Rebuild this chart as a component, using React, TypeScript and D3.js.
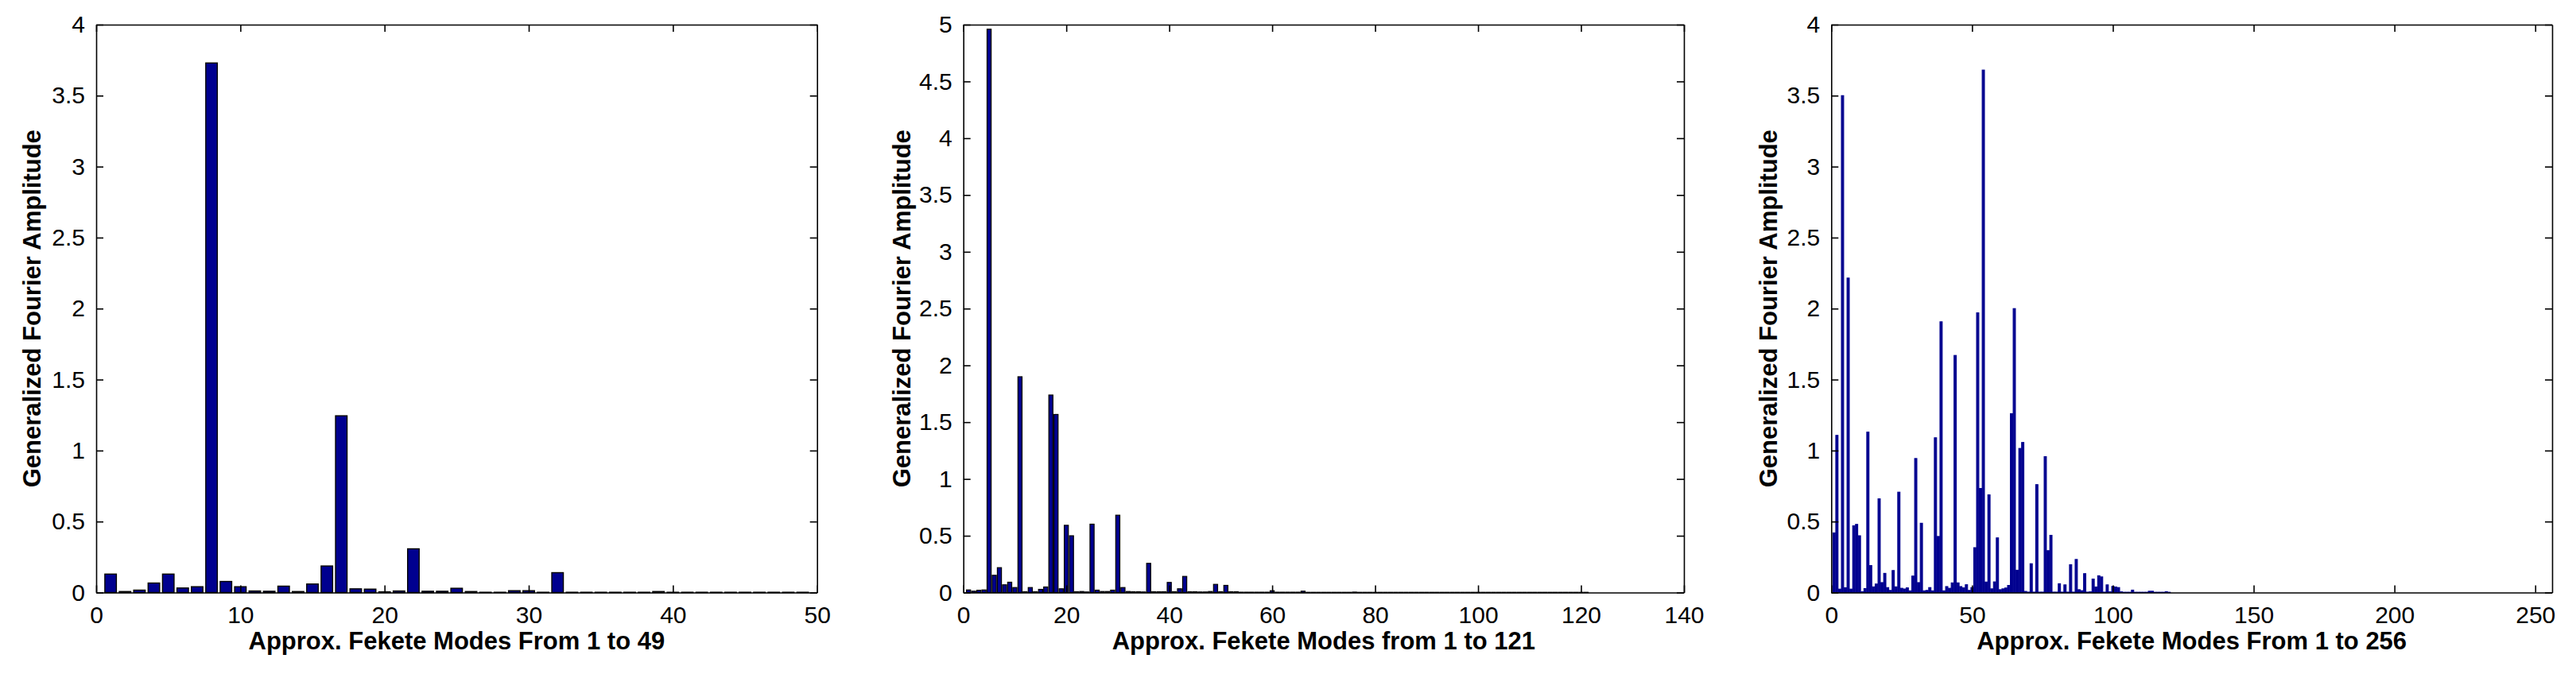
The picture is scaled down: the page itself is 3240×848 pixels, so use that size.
import * as d3 from "d3";
import { useEffect, useRef } from "react";

// amplitudes, mode k is index k-1
const modes49 = [
  0.13, 0.007, 0.017, 0.067, 0.13, 0.032, 0.041, 3.73, 0.078, 0.041,
  0.011, 0.009, 0.045, 0.007, 0.06, 0.187, 1.245, 0.026, 0.024, 0.005,
  0.011, 0.308, 0.009, 0.009, 0.03, 0.007, 0.002, 0.002, 0.013, 0.013,
  0.002, 0.14, 0.002, 0.002, 0.002, 0.002, 0.002, 0.002, 0.007, 0.002,
  0.002, 0.002, 0.002, 0.002, 0.002, 0.002, 0.002, 0.002, 0.002,
];

const modes121 = [
  0.023, 0.012, 0.02, 0.023, 4.96, 0.152, 0.219, 0.068, 0.091, 0.044,
  1.9, 0.007, 0.044, 0.007, 0.028, 0.049, 1.739, 1.568, 0.033, 0.592,
  0.5, 0.007, 0.009, 0.005, 0.602, 0.021, 0.009, 0.009, 0.021, 0.681,
  0.044, 0.009, 0.007, 0.007, 0.005, 0.257, 0.007, 0.007, 0.007, 0.089,
  0.007, 0.033, 0.142, 0.007, 0.007, 0.005, 0.005, 0.009, 0.072, 0.007,
  0.063, 0.007, 0.007, 0.003, 0.003, 0.003, 0.003, 0.003, 0.003, 0.016,
  0.003, 0.003, 0.003, 0.003, 0.003, 0.012, 0.002, 0.002, 0.002, 0.002,
  0.002, 0.002, 0.002, 0.002, 0.002, 0.004, 0.002, 0.002, 0.002, 0.002,
  0.002, 0.002, 0.002, 0.002, 0.002, 0.002, 0.002, 0.002, 0.002, 0.002,
  0.002, 0.002, 0.002, 0.002, 0.002, 0.002, 0.002, 0.002, 0.002, 0.002,
  0.002, 0.002, 0.002, 0.002, 0.002, 0.002, 0.002, 0.002, 0.002, 0.002,
  0.002, 0.002, 0.002, 0.002, 0.002, 0.002, 0.002, 0.002, 0.002, 0.002,
  0.002,
];

const modes256 = [
  0.42, 1.107, 0.024, 3.5, 0.034, 2.215, 0.024, 0.47, 0.48, 0.4,
  0.006, 0.028, 1.13, 0.19, 0.04, 0.06, 0.66, 0.07, 0.135, 0.035,
  0.015, 0.155, 0.04, 0.707, 0.03, 0.025, 0.033, 0.012, 0.116, 0.944,
  0.07, 0.488, 0.012, 0.015, 0.035, 0.012, 1.09, 0.395, 1.907, 0.012,
  0.042, 0.03, 0.068, 1.67, 0.068, 0.042, 0.033, 0.055, 0.015, 0.035,
  0.316, 1.97, 0.733, 3.68, 0.074, 0.688, 0.026, 0.075, 0.385, 0.02,
  0.026, 0.032, 0.05, 1.26, 2.0, 0.157, 1.015, 1.057, 0.008, 0.003,
  0.203, 0.003, 0.76, 0.003, 0.003, 0.957, 0.295, 0.403, 0.003, 0.003,
  0.062, 0.003, 0.054, 0.003, 0.196, 0.003, 0.233, 0.02, 0.013, 0.133,
  0.003, 0.005, 0.095, 0.039, 0.118, 0.11, 0.003, 0.054, 0.005, 0.043,
  0.039, 0.035, 0.005, 0.002, 0.002, 0.002, 0.017, 0.002, 0.002, 0.002,
  0.002, 0.002, 0.009, 0.009, 0.002, 0.002, 0.002, 0.002, 0.006, 0.002,
  0, 0, 0, 0, 0, 0, 0, 0, 0, 0, 0, 0, 0, 0, 0, 0, 0, 0, 0, 0,
  0, 0, 0, 0, 0, 0, 0, 0, 0, 0, 0, 0, 0, 0, 0, 0, 0, 0, 0, 0,
  0, 0, 0, 0, 0, 0, 0, 0, 0, 0, 0, 0, 0, 0, 0, 0, 0, 0, 0, 0,
  0, 0, 0, 0, 0, 0, 0, 0, 0, 0, 0, 0, 0, 0, 0, 0, 0, 0, 0, 0,
  0, 0, 0, 0, 0, 0, 0, 0, 0, 0, 0, 0, 0, 0, 0, 0, 0, 0, 0, 0,
  0, 0, 0, 0, 0, 0, 0, 0, 0, 0, 0, 0, 0, 0, 0, 0, 0, 0, 0, 0,
  0, 0, 0, 0, 0, 0, 0, 0, 0, 0, 0, 0, 0, 0, 0, 0,
];

const xTicks49 = [0, 10, 20, 30, 40, 50];
const xTicks121 = [0, 20, 40, 60, 80, 100, 120, 140];
const xTicks256 = [0, 50, 100, 150, 200, 250];
const yTicks4 = [0, 0.5, 1, 1.5, 2, 2.5, 3, 3.5, 4];
const yTicks5 = [0, 0.5, 1, 1.5, 2, 2.5, 3, 3.5, 4, 4.5, 5];

const xTitles = [
  "Approx. Fekete Modes From 1 to 49",
  "Approx. Fekete Modes from 1 to 121",
  "Approx. Fekete Modes From 1 to 256",
];
const yTitle = "Generalized Fourier Amplitude";

const W = 3240;
const H = 848;
const TOP = 31;
const BOTTOM = 745.5;
const BAR = "#00008f";
const FONT = "'Liberation Sans', Arial, Helvetica, sans-serif";

const panels = [
  { values: modes49, xMax: 50, yMax: 4, xTicks: xTicks49, yTicks: yTicks4, title: xTitles[0], left: 121, right: 1027.7, gap: 70, edge: "#000", edgeW: 1.4 },
  { values: modes121, xMax: 140, yMax: 5, xTicks: xTicks121, yTicks: yTicks5, title: xTitles[1], left: 1211.7, right: 2118, gap: 67, edge: "#000", edgeW: 1.2 },
  { values: modes256, xMax: 256, yMax: 4, xTicks: xTicks256, yTicks: yTicks4, title: xTitles[2], left: 2303.3, right: 3210, gap: 68, edge: BAR, edgeW: 1.1 },
];

export default function App() {
  const ref = useRef<SVGSVGElement>(null);

  useEffect(() => {
    const svg = d3.select(ref.current);
    svg.selectAll("*").remove();

    panels.forEach((p) => {
      const x = d3.scaleLinear().domain([0, p.xMax]).range([p.left, p.right]);
      const y = d3.scaleLinear().domain([0, p.yMax]).range([BOTTOM, TOP]);
      const bw = x(0.8) - x(0);
      const g = svg.append("g");

      g.append("g")
        .selectAll("rect")
        .data(p.values)
        .join("rect")
        .attr("x", (_, i) => x(i + 1) - bw / 2)
        .attr("y", (d) => y(d))
        .attr("width", bw)
        .attr("height", (d) => BOTTOM - y(d))
        .attr("fill", BAR)
        .attr("stroke", p.edge)
        .attr("stroke-width", p.edgeW);

      const fmt = (d: any) => String(d);
      const blank = () => "";

      g.append("g")
        .attr("transform", `translate(0,${BOTTOM})`)
        .call(d3.axisBottom(x).tickValues(p.xTicks).tickFormat(fmt).tickSizeInner(-9).tickSizeOuter(0).tickPadding(17));
      g.append("g")
        .attr("transform", `translate(0,${TOP})`)
        .call(d3.axisTop(x).tickValues(p.xTicks).tickFormat(blank).tickSizeInner(-9).tickSizeOuter(0));
      g.append("g")
        .attr("transform", `translate(${p.left},0)`)
        .call(d3.axisLeft(y).tickValues(p.yTicks).tickFormat(fmt).tickSizeInner(-9).tickSizeOuter(0).tickPadding(14));
      g.append("g")
        .attr("transform", `translate(${p.right},0)`)
        .call(d3.axisRight(y).tickValues(p.yTicks).tickFormat(blank).tickSizeInner(-9).tickSizeOuter(0));

      g.selectAll(".domain, .tick line").attr("stroke", "#000").attr("stroke-width", 1.6);
      g.selectAll(".tick text")
        .attr("font-family", FONT)
        .attr("font-size", 30)
        .attr("fill", "#000");

      g.append("text")
        .attr("x", (p.left + p.right) / 2)
        .attr("y", 817)
        .attr("text-anchor", "middle")
        .attr("font-family", FONT)
        .attr("font-weight", "bold")
        .attr("font-size", 31)
        .text(p.title);

      g.append("text")
        .attr("transform", `translate(${p.left - p.gap},${(TOP + BOTTOM) / 2}) rotate(-90)`)
        .attr("text-anchor", "middle")
        .attr("font-family", FONT)
        .attr("font-weight", "bold")
        .attr("font-size", 31)
        .text(yTitle);
    });
  }, []);

  return (
    <div style={{ position: "absolute", left: 0, top: 0 }}>
      <svg ref={ref} width={W} height={H} style={{ display: "block", background: "#fff" }} />
    </div>
  );
}
